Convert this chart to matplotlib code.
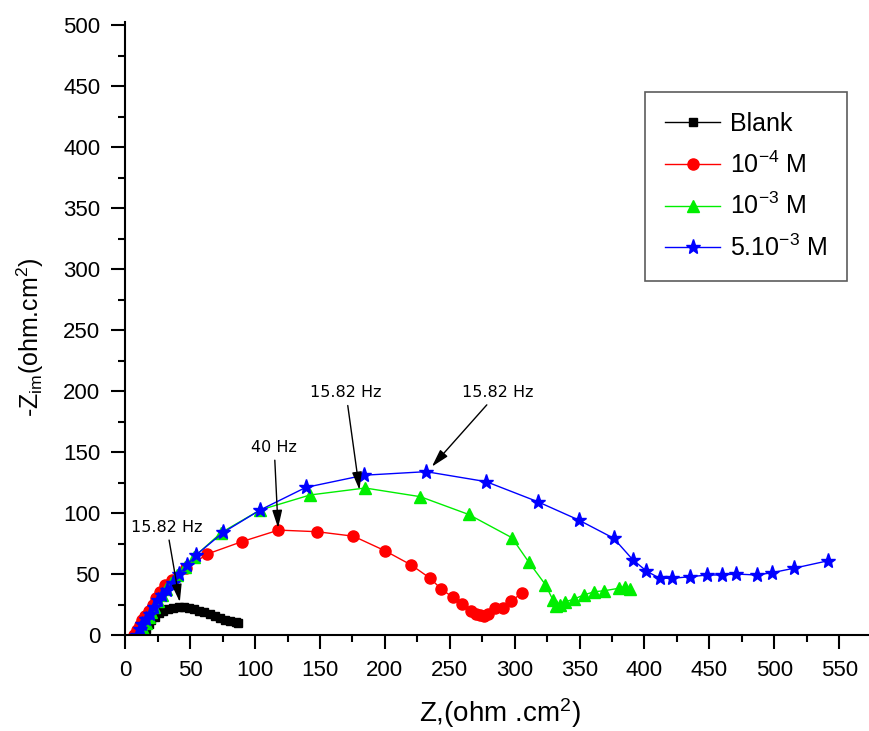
import numpy as np
import matplotlib.pyplot as plt
from matplotlib.ticker import MultipleLocator

plt.rcParams['font.family'] = ['Liberation Sans', 'DejaVu Sans']
plt.rcParams['mathtext.fontset'] = 'custom'
plt.rcParams['mathtext.rm'] = 'Liberation Sans'
plt.rcParams['mathtext.it'] = 'Liberation Sans:italic'

# Nyquist data, Z' and -Z'' in ohm.cm2
blank_x = [14, 16, 18, 20, 23, 26, 29, 33, 37, 41, 45, 49, 53, 57, 61, 65, 69, 73, 77, 81, 85, 87]
blank_y = [1, 5, 9, 12, 15, 18, 20, 21.5, 22.5, 23, 23, 22.5, 21.5, 20, 18.5, 17, 15.5, 14, 12.5, 11.5, 10.5, 9.8]

red_x = [7, 9, 11, 13, 15, 18, 21, 24, 27, 30.6, 35.8, 46.8, 63.2, 89.7, 118, 147.6, 175.8, 200.2,
         220.3, 234.9, 243.4, 252.4, 259.4, 266.3, 270, 273.5, 276.5, 279.4, 285, 291, 297.4, 305.6]
red_y = [0, 4, 8, 12, 16, 20, 25, 30, 35, 41, 45, 54.7, 66.4, 76.5, 86, 84.7, 81, 69,
         57.4, 46.5, 37.7, 30.9, 25.2, 19.7, 17.5, 16.4, 16, 17.2, 21.9, 21.9, 28.1, 34.2]

green_x = [12, 14, 16, 18, 20, 22, 25, 28, 31, 35, 40, 46, 53, 74, 103.9, 142.4, 184.8, 227.3, 264.6,
           297.8, 310.7, 323.6, 329.5, 332, 335.2, 339, 345.4, 353.1, 361.4, 369.1, 380.1, 385.3, 389.1]
green_y = [0, 5, 10, 15, 19, 23, 28, 33, 38, 43, 49, 56, 64, 84, 102.5, 114.8, 120.5, 113.4, 98.8,
           79.8, 60, 41.4, 28.7, 24, 24.6, 27.3, 29.3, 32.8, 35.5, 36.3, 38.3, 39.6, 37.5]

blue_x = [9, 11, 13, 16, 19, 22, 25.4, 28.5, 31.9, 36.5, 41.6, 47.5, 54.5, 75.6, 103.9, 139.1, 184,
          231.8, 278.1, 317.7, 349.3, 376.3, 391.2, 401.5, 411.7, 421.3, 435.4, 448.3, 459.8, 470.3,
          486.8, 498.4, 515, 541.6]
blue_y = [0, 5, 9, 13, 17, 23, 28.7, 33, 37, 43, 50, 57, 65.6, 84.2, 102.5, 121, 131,
          133.9, 125.7, 109.3, 94.3, 79.3, 61.5, 52.5, 46.5, 46.5, 47.8, 49.2, 49.2, 50,
          49.2, 51.1, 54.7, 60.9]

labels = ['Blank', r'10$^{-4}$ M', r'10$^{-3}$ M', r'5.10$^{-3}$ M']

fig = plt.figure(figsize=(8.69, 7.31), dpi=100)
ax = fig.add_axes([0.1442, 0.1313, 0.8558, 0.8386])

ax.plot(blank_x, blank_y, '-s', color='black', lw=1, ms=6, label=labels[0])
ax.plot(red_x, red_y, '-o', color='red', lw=1, ms=8, label=labels[1])
ax.plot(green_x, green_y, '-^', color='#00ee00', lw=1, ms=9, label=labels[2])
ax.plot(blue_x, blue_y, '-*', color='blue', lw=1, ms=11, label=labels[3])

ax.set_xlim(0, 573)
ax.set_ylim(0, 502.5)
ax.xaxis.set_major_locator(MultipleLocator(50))
ax.xaxis.set_minor_locator(MultipleLocator(25))
ax.yaxis.set_major_locator(MultipleLocator(50))
ax.yaxis.set_minor_locator(MultipleLocator(25))
ax.spines['top'].set_visible(False)
ax.spines['right'].set_visible(False)
for s in ['left', 'bottom']:
    ax.spines[s].set_linewidth(1.5)
ax.tick_params(which='major', direction='out', length=10, width=1.5, labelsize=16, pad=8)
ax.tick_params(which='minor', direction='out', length=5, width=1.5)

# frequency annotations
arrow = dict(arrowstyle='-|>,head_length=0.9,head_width=0.25', color='black', lw=1, mutation_scale=12,
             shrinkA=2, shrinkB=0)
afont = dict(ha='center', va='center', fontsize=11.5, family='DejaVu Sans')
ax.annotate('15.82 Hz', xy=(42, 27), xytext=(32, 88.5), arrowprops=arrow, **afont)
ax.annotate('40 Hz', xy=(117.7, 87.7), xytext=(114.7, 154), arrowprops=arrow, **afont)
ax.annotate('15.82 Hz', xy=(180.4, 119), xytext=(170, 198.8), arrowprops=arrow, **afont)
ax.annotate('15.82 Hz', xy=(236.2, 138), xytext=(287, 198.8), arrowprops=arrow, **afont)

leg = ax.legend(loc='upper left', bbox_to_anchor=(0.6988, 0.8858), borderaxespad=0, fontsize=18,
                frameon=True, fancybox=False, edgecolor='#333333', handlelength=2.2, borderpad=0.8,
                labelspacing=0.61, handletextpad=0.4)
leg.get_frame().set_linewidth(1.2)

fig.text(30 / 869, 1 - 337 / 731, r'-Z$_{\rm im}$(ohm.cm$^2$)', rotation=90, ha='center', va='center',
         fontsize=18)
fig.text(500 / 869, 1 - 713 / 731, r'Z,(ohm .cm$^2$)', ha='center', va='center', fontsize=20)

fig.savefig('out.png', dpi=100)
